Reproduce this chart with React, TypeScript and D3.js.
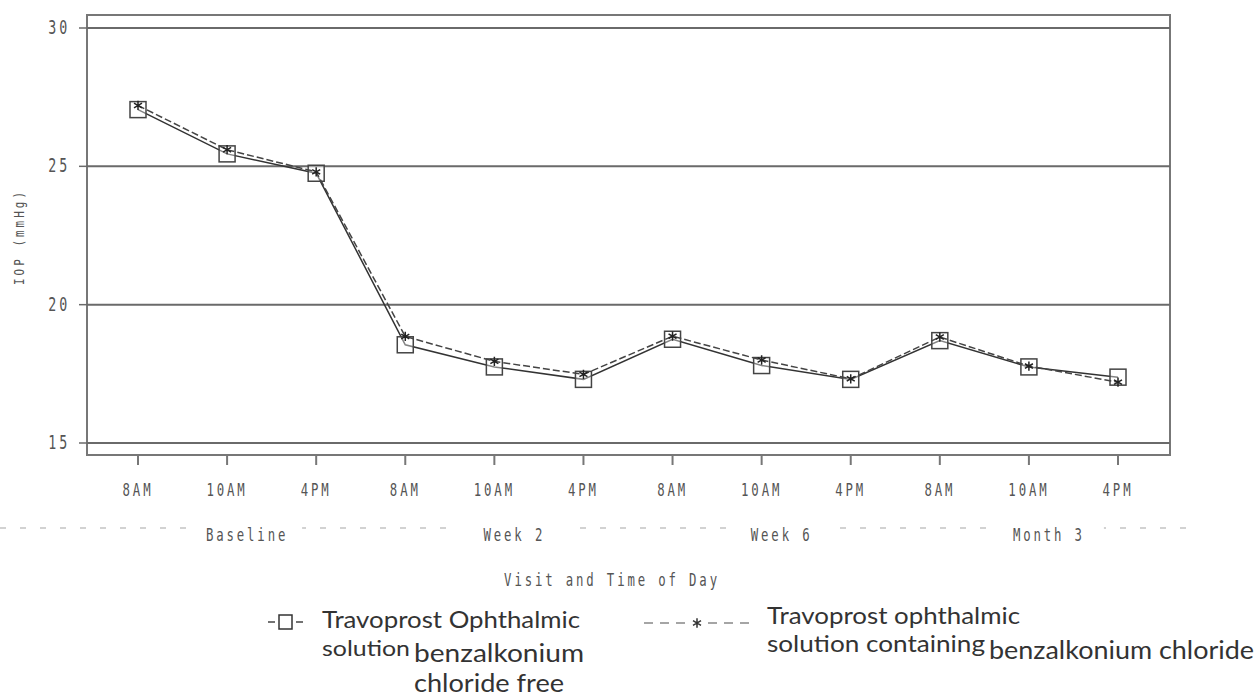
import React from 'react';
import * as d3 from 'd3';

const timeLabels = ['8AM', '10AM', '4PM', '8AM', '10AM', '4PM', '8AM', '10AM', '4PM', '8AM', '10AM', '4PM'];
const visits = ['Baseline', 'Week 2', 'Week 6', 'Month 3'];
const bakFree = [27.05, 25.45, 24.75, 18.55, 17.75, 17.3, 18.75, 17.8, 17.3, 18.7, 17.75, 17.38];
const bakContaining = [27.2, 25.6, 24.8, 18.85, 17.95, 17.48, 18.86, 18.0, 17.32, 18.83, 17.78, 17.2];
const yTicks = [15, 20, 25, 30];

const W = 1260;
const H = 696;
const frame = { left: 87, right: 1170, top: 15, bottom: 455 };
const sasFont = '"DejaVu Sans Mono", monospace';
const ink = '#555';

// SAS-style tall narrow text
const Sas: React.FC<{ x: number; y: number; size?: number; anchor?: string; children: React.ReactNode }> =
  ({ x, y, size = 13, anchor = 'middle', children }) => (
    <text transform={`translate(${x},${y}) scale(0.95,1.35)`} textAnchor={anchor} fontFamily={sasFont}
      fontSize={size} fill={ink} letterSpacing={3}>{children}</text>
  );

const App: React.FC = () => {
  const idx = timeLabels.map((_, i) => i);
  const x = d3.scaleLinear().domain([0, 11]).range([138, 1118]);
  const y = d3.scaleLinear().domain([15, 30]).range([443, 28]);

  const line = d3.line<number>().x((_, i) => x(i)).y(d => y(d));

  const starPath = d3.symbol().type(d3.symbolAsterisk).size(60)();

  return (
    <svg width={W} height={H} style={{ position: 'absolute', left: 0, top: 0, background: '#fff' }}>
      {/* frame */}
      <rect x={frame.left} y={frame.top} width={frame.right - frame.left} height={frame.bottom - frame.top}
        fill="none" stroke="#777" strokeWidth={2} />

      {/* y gridlines + ticks */}
      {yTicks.map(t => (
        <g key={t}>
          <line x1={frame.left} x2={frame.right} y1={y(t)} y2={y(t)} stroke="#6a6a6a" strokeWidth={2} />
          <line x1={frame.left - 8} x2={frame.left} y1={y(t)} y2={y(t)} stroke="#6a6a6a" strokeWidth={1.5} />
          <Sas x={70} y={y(t) + 6} size={14} anchor="end">{t}</Sas>
        </g>
      ))}

      <text transform={`translate(24,237) rotate(-90) scale(1,1.3)`} textAnchor="middle" fontFamily={sasFont}
        fontSize={11} fill={ink} letterSpacing={3}>IOP (mmHg)</text>

      {/* x ticks */}
      {idx.map(i => (
        <g key={i}>
          <line x1={x(i)} x2={x(i)} y1={frame.bottom} y2={frame.bottom + 10} stroke="#777" strokeWidth={2} />
          <Sas x={x(i)} y={496}>{timeLabels[i]}</Sas>
        </g>
      ))}

      {/* visit group line + labels */}
      <line x1={0} x2={1190} y1={528} y2={528} stroke="#c4c4c4" strokeWidth={1.5} strokeDasharray="6,14" />
      {visits.map((v, k) => {
        const cx = x(k * 3 + 1) + 20;
        return (
          <g key={v}>
            <rect x={cx - 55} y={520} width={110} height={24} fill="#fff" />
            <Sas x={cx} y={541}>{v}</Sas>
          </g>
        );
      })}

      <Sas x={612} y={586}>Visit and Time of Day</Sas>

      {/* series: BAK free (solid, squares) */}
      <path d={line(bakFree) || ''} fill="none" stroke="#333" strokeWidth={1.5} />
      {bakFree.map((v, i) => (
        <rect key={i} x={x(i) - 8} y={y(v) - 8} width={16} height={16} fill="#fff" fillOpacity={0.4}
          stroke="#444" strokeWidth={1.5} />
      ))}

      {/* series: BAK containing (dashed, stars) */}
      <path d={line(bakContaining) || ''} fill="none" stroke="#444" strokeWidth={1.5} strokeDasharray="7,3" />
      {bakContaining.map((v, i) => (
        <path key={i} d={starPath || ''} transform={`translate(${x(i)},${y(v)})`} fill="none"
          stroke="#222" strokeWidth={1.5} />
      ))}

      {/* legend */}
      <g fontFamily="Lato, 'Noto Sans', sans-serif" fontSize={25} fill="#333">
        <line x1={268} x2={275} y1={622} y2={622} stroke="#444" strokeWidth={1.5} />
        <line x1={296} x2={303} y1={622} y2={622} stroke="#444" strokeWidth={1.5} />
        <rect x={279} y={615} width={13} height={14} fill="#fff" stroke="#333" strokeWidth={1.5} />
        <text x={322} y={628} fontSize={24} textLength={258} lengthAdjust="spacingAndGlyphs">Travoprost Ophthalmic</text>
        <text x={322} y={656} fontSize={22} textLength={88} lengthAdjust="spacingAndGlyphs">solution</text>
        <text x={414} y={662} textLength={170} lengthAdjust="spacingAndGlyphs">benzalkonium</text>
        <text x={414} y={692} textLength={150} lengthAdjust="spacingAndGlyphs">chloride free</text>

        <line x1={644} x2={752} y1={623} y2={623} stroke="#888" strokeWidth={1.5} strokeDasharray="9,7" />
        <rect x={690} y={614} width={14} height={18} fill="#fff" />
        <path d={starPath || ''} transform="translate(697,623)" fill="none" stroke="#333" strokeWidth={1.5} />
        <text x={767} y={624} fontSize={24} textLength={253} lengthAdjust="spacingAndGlyphs">Travoprost ophthalmic</text>
        <text x={767} y={652} fontSize={23} textLength={218} lengthAdjust="spacingAndGlyphs">solution containing</text>
        <text x={989} y={659} fontSize={25} textLength={265} lengthAdjust="spacingAndGlyphs">benzalkonium chloride</text>
      </g>
    </svg>
  );
};

export default App;
